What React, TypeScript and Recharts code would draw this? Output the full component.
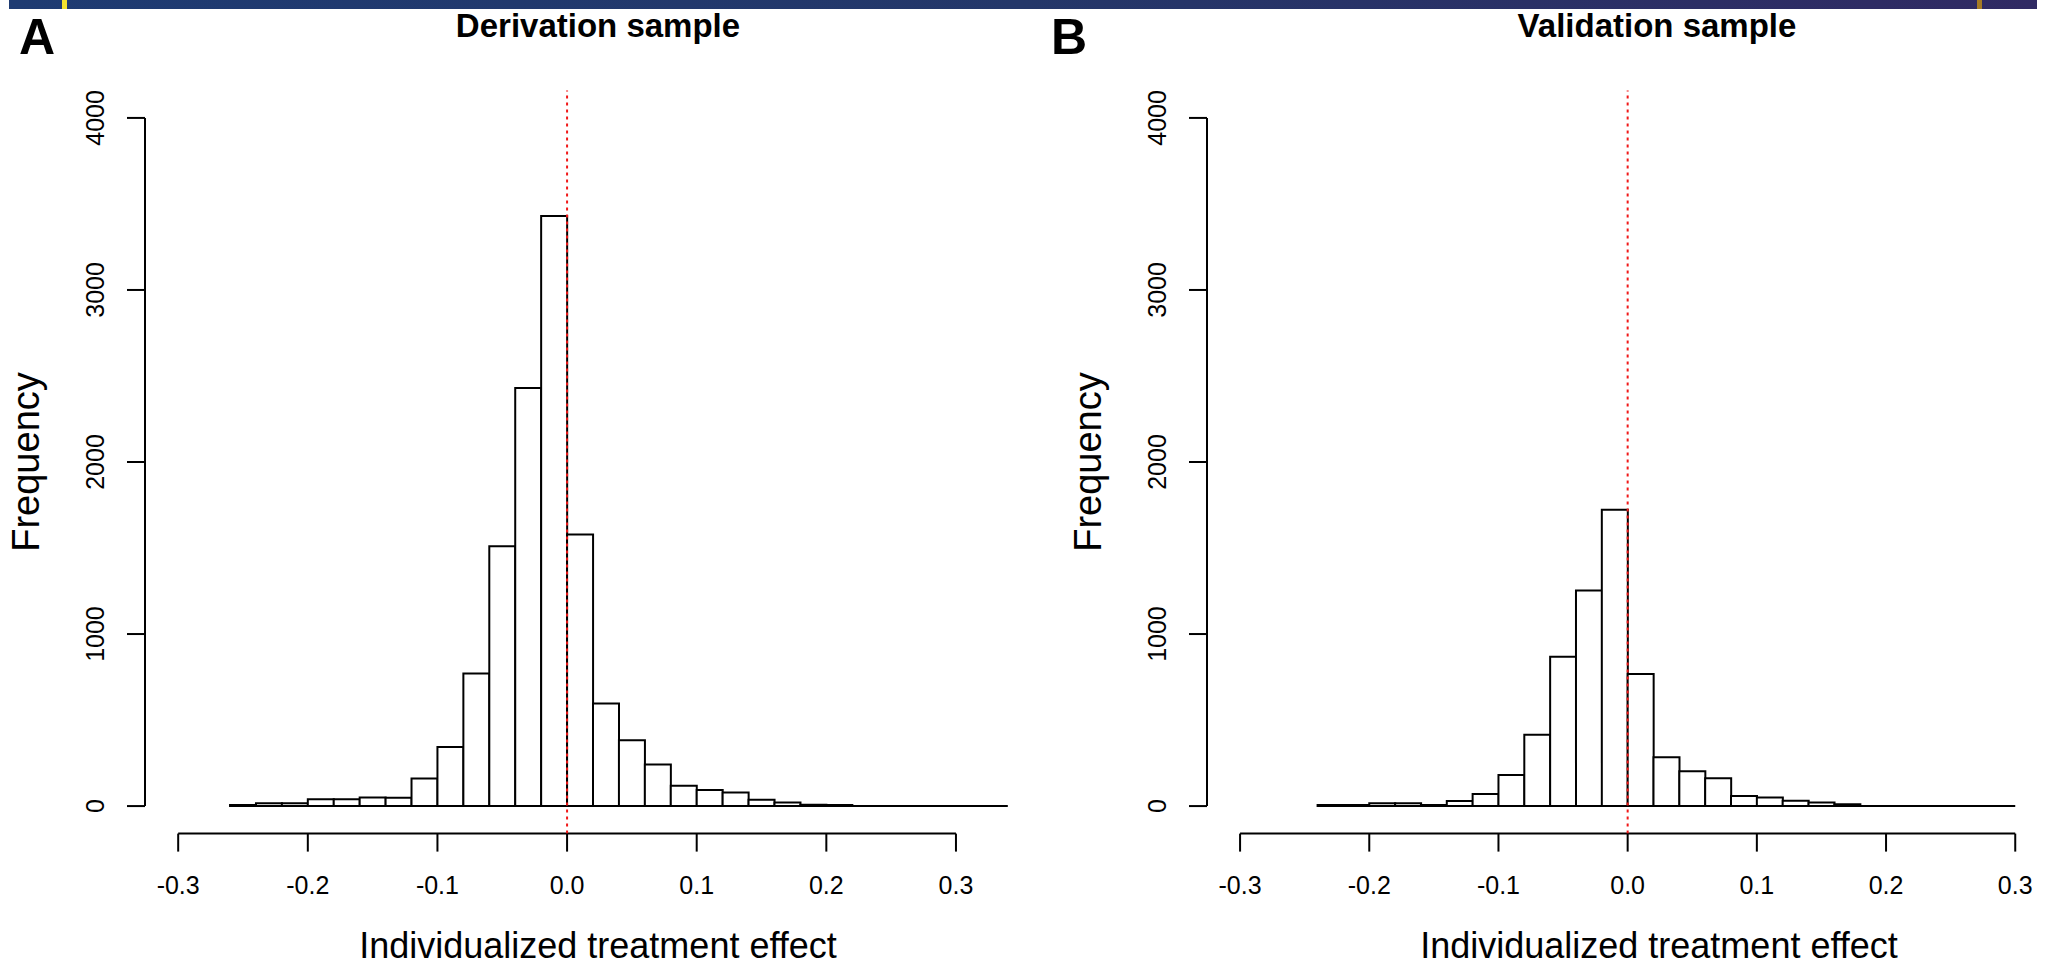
import { Bar, ComposedChart, ReferenceLine, XAxis, YAxis } from "recharts";

// bin midpoints (bin width 0.02) and counts
const BIN_MIDS_A = [
  -0.25, -0.23, -0.21, -0.19, -0.17, -0.15, -0.13, -0.11, -0.09, -0.07, -0.05, -0.03, -0.01,
  0.01, 0.03, 0.05, 0.07, 0.09, 0.11, 0.13, 0.15, 0.17, 0.19, 0.21, 0.23, 0.25, 0.27, 0.29,
  0.31, 0.33,
];
const COUNTS_A = [
  6, 17, 17, 40, 40, 50, 48, 160, 344, 770, 1511, 2430, 3430, 1578, 596, 383, 242, 118, 93, 79,
  37, 21, 8, 6, 0, 0, 0, 0, 0, 0,
];
const RANGE_A = [-0.26, 0.34];

const BIN_MIDS_B = [
  -0.23, -0.21, -0.19, -0.17, -0.15, -0.13, -0.11, -0.09, -0.07, -0.05, -0.03, -0.01, 0.01,
  0.03, 0.05, 0.07, 0.09, 0.11, 0.13, 0.15, 0.17, 0.19, 0.21, 0.23, 0.25, 0.27, 0.29,
];
const COUNTS_B = [
  6, 6, 17, 17, 6, 29, 70, 180, 414, 868, 1253, 1722, 768, 284, 203, 162, 58, 50, 31, 21, 10, 0,
  0, 0, 0, 0, 0,
];
const RANGE_B = [-0.24, 0.3];

const X_TICKS = [-0.3, -0.2, -0.1, 0, 0.1, 0.2, 0.3];
const Y_TICKS = [0, 1000, 2000, 3000, 4000];
const TITLE_A = "Derivation sample";
const TITLE_B = "Validation sample";
const X_TITLE = "Individualized treatment effect";
const Y_TITLE = "Frequency";

const FONT = '"Liberation Sans", Arial, sans-serif';
const INK = "#000";

type YTickProps = { x?: number; y?: number; payload?: { value: number } };

function YTick({ x = 0, y = 0, payload }: YTickProps) {
  const lx = x - 23;
  return (
    <text
      x={lx}
      y={y}
      transform={`rotate(-90, ${lx}, ${y})`}
      textAnchor="middle"
      fontSize={25}
      fontFamily={FONT}
      fill={INK}
    >
      {payload?.value}
    </text>
  );
}

type HistProps = {
  mids: number[];
  counts: number[];
  range: number[];
  xMax: number;
  left: number;
  width: number;
  marginLeft: number;
  marginRight: number;
};

function Histogram({ mids, counts, range, xMax, left, width, marginLeft, marginRight }: HistProps) {
  const data = mids.map((m, i) => ({ mid: m, count: counts[i] }));
  const xMin = -0.3256;
  return (
    <div style={{ position: "absolute", left, top: 0 }}>
      <ComposedChart
        width={width}
        height={968}
        data={data}
        margin={{ top: 90.4, right: marginRight, bottom: 14.4, left: marginLeft }}
        barCategoryGap={0}
        barGap={0}
      >
        <XAxis
          dataKey="mid"
          type="number"
          domain={[xMin, xMax]}
          allowDataOverflow
          ticks={X_TICKS}
          interval={0}
          height={120}
          axisLine={false}
          tickLine={{ stroke: INK, strokeWidth: 2 }}
          tickSize={18}
          tickMargin={25}
          tick={{ fill: INK, fontSize: 25, fontFamily: FONT }}
          tickFormatter={(v: number) => v.toFixed(1)}
        />
        <YAxis
          type="number"
          domain={[-160, 4160]}
          allowDataOverflow
          ticks={Y_TICKS}
          interval={0}
          width={60}
          axisLine={false}
          tickLine={{ stroke: INK, strokeWidth: 2 }}
          tickSize={18}
          tickMargin={0}
          tick={<YTick />}
        />
        <ReferenceLine
          segment={[
            { x: X_TICKS[0], y: -160 },
            { x: X_TICKS[X_TICKS.length - 1], y: -160 },
          ]}
          stroke={INK}
          strokeWidth={2}
          ifOverflow="visible"
        />
        <ReferenceLine
          segment={[
            { x: xMin, y: Y_TICKS[0] },
            { x: xMin, y: Y_TICKS[Y_TICKS.length - 1] },
          ]}
          stroke={INK}
          strokeWidth={2}
          ifOverflow="visible"
        />
        <ReferenceLine
          segment={[
            { x: range[0], y: 0 },
            { x: range[1], y: 0 },
          ]}
          stroke={INK}
          strokeWidth={2}
          ifOverflow="visible"
        />
        <Bar
          dataKey="count"
          fill="#fff"
          stroke={INK}
          strokeWidth={2}
          isAnimationActive={false}
        />
        <ReferenceLine
          x={0}
          stroke="#f01818"
          strokeWidth={2}
          strokeDasharray="3 4"
          ifOverflow="visible"
        />
      </ComposedChart>
    </div>
  );
}

export default function App() {
  const text = { fontFamily: FONT, fill: INK };
  return (
    <div
      style={{
        position: "absolute",
        left: 0,
        top: 0,
        width: 2058,
        height: 968,
        background: "#fff",
        overflow: "hidden",
      }}
    >
      <div
        style={{
          position: "absolute",
          left: 9,
          top: 0,
          width: 2028,
          height: 9,
          background: "linear-gradient(90deg, #1e3b72 0%, #243769 50%, #302a63 100%)",
        }}
      />
      <div style={{ position: "absolute", left: 62, top: 0, width: 5, height: 9, background: "#f2e330" }} />
      <div style={{ position: "absolute", left: 1977, top: 0, width: 5, height: 9, background: "#a57b25" }} />

      <Histogram
        mids={BIN_MIDS_A}
        counts={COUNTS_A}
        range={RANGE_A}
        xMax={0.3656}
        left={0}
        width={1045}
        marginLeft={85}
        marginRight={4}
      />
      <Histogram
        mids={BIN_MIDS_B}
        counts={COUNTS_B}
        range={RANGE_B}
        xMax={0.33}
        left={1040}
        width={1018}
        marginLeft={107}
        marginRight={4}
      />

      <svg
        width={2058}
        height={968}
        style={{ position: "absolute", left: 0, top: 0, pointerEvents: "none" }}
      >
        <text x={19} y={54} fontSize={50} fontWeight="bold" {...text}>
          A
        </text>
        <text x={1051} y={54} fontSize={50} fontWeight="bold" {...text}>
          B
        </text>
        <text x={598} y={37} fontSize={33} fontWeight="bold" textAnchor="middle" {...text}>
          {TITLE_A}
        </text>
        <text x={1657} y={37} fontSize={33} fontWeight="bold" textAnchor="middle" {...text}>
          {TITLE_B}
        </text>
        <text x={598} y={958} fontSize={36} textAnchor="middle" {...text}>
          {X_TITLE}
        </text>
        <text x={1659} y={958} fontSize={36} textAnchor="middle" {...text}>
          {X_TITLE}
        </text>
        <text
          x={39}
          y={462}
          fontSize={38}
          textAnchor="middle"
          transform="rotate(-90, 39, 462)"
          {...text}
        >
          {Y_TITLE}
        </text>
        <text
          x={1101}
          y={462}
          fontSize={38}
          textAnchor="middle"
          transform="rotate(-90, 1101, 462)"
          {...text}
        >
          {Y_TITLE}
        </text>
      </svg>
    </div>
  );
}
